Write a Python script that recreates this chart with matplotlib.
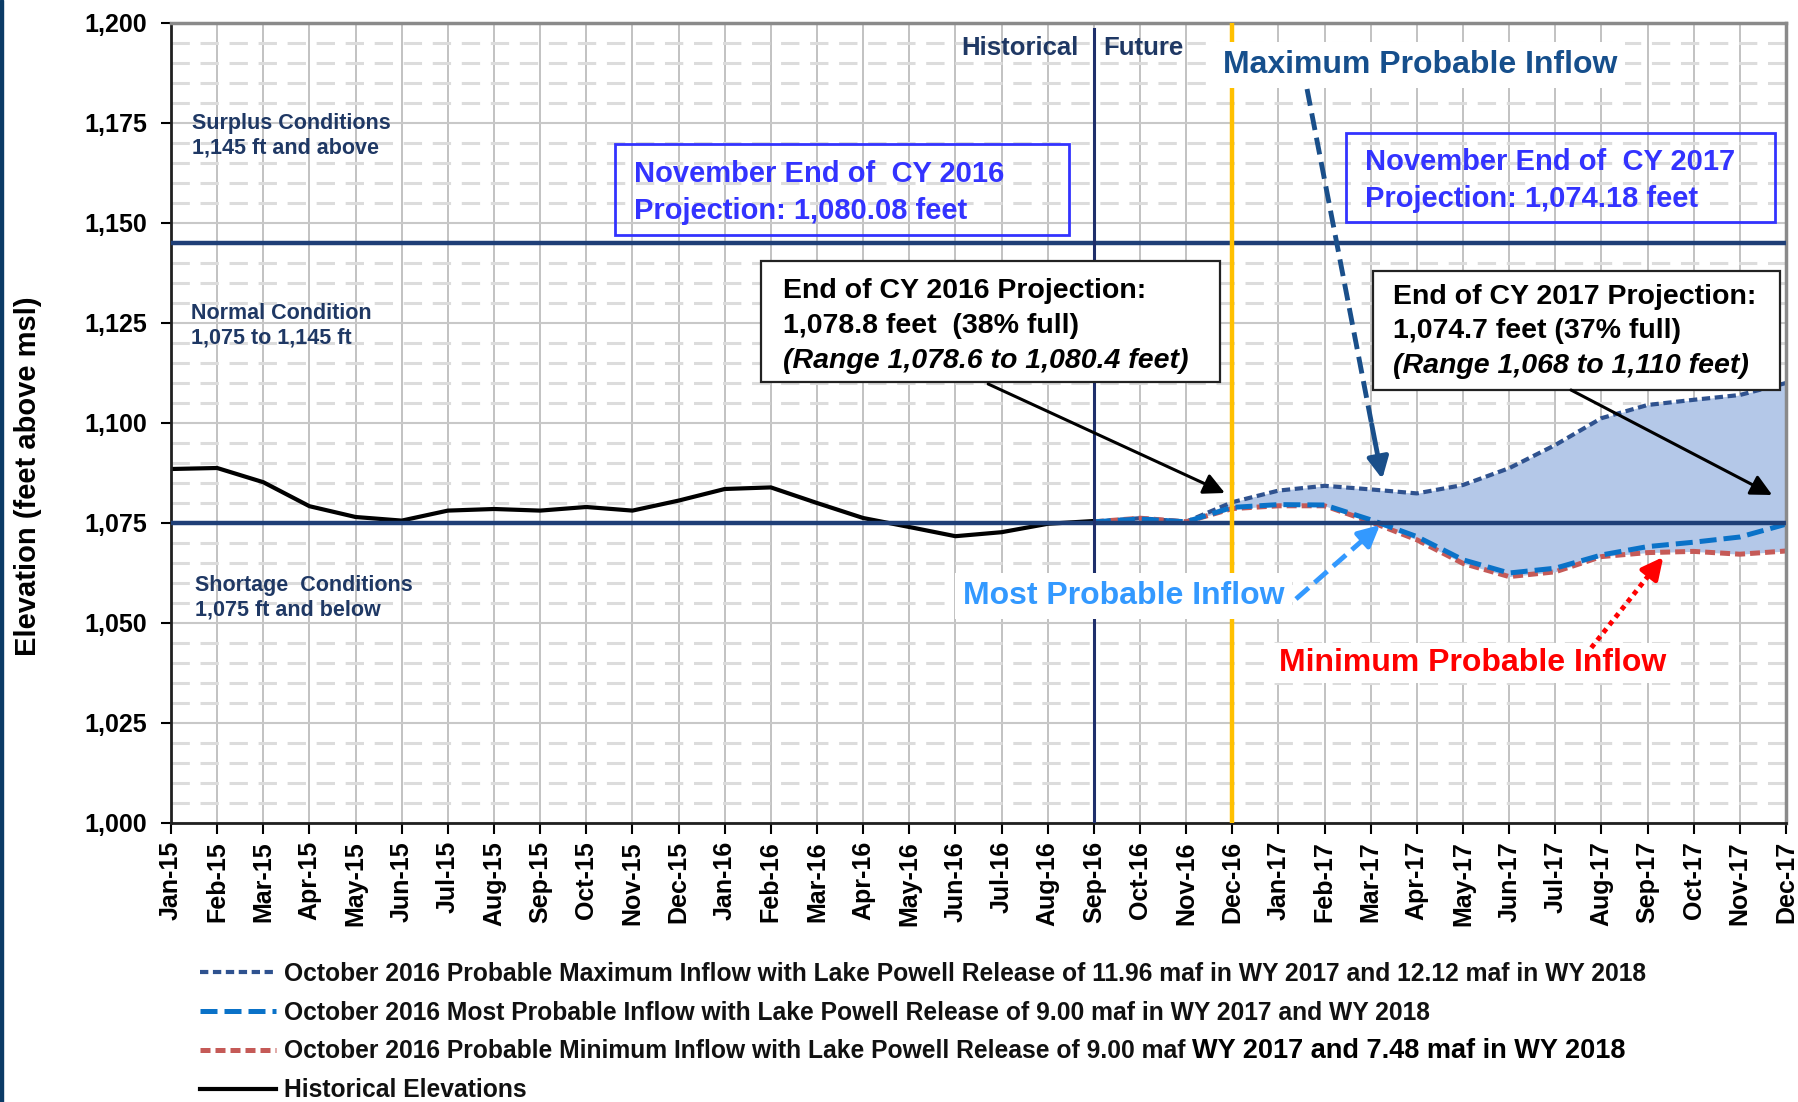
import matplotlib
matplotlib.use('Agg')
import matplotlib.pyplot as plt
import numpy as np
from matplotlib.patches import Rectangle
from matplotlib.ticker import MultipleLocator

plt.rcParams['font.family'] = ['Liberation Sans', 'DejaVu Sans']

# ---------------- data ----------------
months = ['Jan-15', 'Feb-15', 'Mar-15', 'Apr-15', 'May-15', 'Jun-15', 'Jul-15', 'Aug-15',
          'Sep-15', 'Oct-15', 'Nov-15', 'Dec-15', 'Jan-16', 'Feb-16', 'Mar-16', 'Apr-16',
          'May-16', 'Jun-16', 'Jul-16', 'Aug-16', 'Sep-16', 'Oct-16', 'Nov-16', 'Dec-16',
          'Jan-17', 'Feb-17', 'Mar-17', 'Apr-17', 'May-17', 'Jun-17', 'Jul-17', 'Aug-17',
          'Sep-17', 'Oct-17', 'Nov-17', 'Dec-17']

# Historical elevations Jan-15 .. Sep-16
hist_vals = [1088.5, 1088.75, 1085.2, 1079.2, 1076.5, 1075.6, 1078.1, 1078.5, 1078.1,
             1079.0, 1078.1, 1080.6, 1083.5, 1083.9, 1080.0, 1076.25, 1074.0, 1071.7,
             1072.7, 1074.8, 1075.5]

# Projections Sep-16 .. Dec-17
max_vals = [1075.3, 1076.2, 1075.3, 1080.2, 1083.1, 1084.3, 1083.4, 1082.4, 1084.5,
            1088.7, 1094.5, 1101.2, 1104.5, 1105.8, 1107.0, 1110.0]
most_vals = [1075.3, 1076.0, 1075.3, 1078.9, 1079.6, 1079.5, 1075.8, 1071.6, 1065.8,
             1062.5, 1063.7, 1067.0, 1069.1, 1070.2, 1071.5, 1074.7]
min_vals = [1075.3, 1076.2, 1075.3, 1078.6, 1079.3, 1079.3, 1075.3, 1070.8, 1064.9,
            1061.6, 1062.8, 1066.6, 1067.6, 1067.9, 1067.2, 1068.0]

y_ticks = [1000, 1025, 1050, 1075, 1100, 1125, 1150, 1175, 1200]
y_tick_labels = ['1,000', '1,025', '1,050', '1,075', '1,100', '1,125', '1,150', '1,175', '1,200']

surplus_level = 1145
shortage_level = 1075
split_month = 'Sep-16'
now_month = 'Dec-16'

legend_labels = [
    'October 2016 Probable Maximum Inflow with Lake Powell Release of 11.96 maf in WY 2017 and 12.12 maf in WY 2018',
    'October 2016 Most Probable Inflow with Lake Powell Release of 9.00 maf in WY 2017 and WY 2018',
    'October 2016 Probable Minimum Inflow with Lake Powell Release of 9.00 maf',
    'Historical Elevations',
]
legend_tail = 'WY 2017 and 7.48 maf in WY 2018'

# ---------------- figure ----------------
W, H = 1798, 1102
fig = plt.figure(figsize=(W / 100, H / 100), dpi=100)
L, R, T, B = 171, 1786, 23, 823
ax = fig.add_axes([L / W, 1 - B / H, (R - L) / W, (B - T) / H])

x_all = np.arange(len(months))
i_split = months.index(split_month)
i_now = months.index(now_month)
x_hist = x_all[:len(hist_vals)]
x_proj = x_all[i_split:i_split + len(max_vals)]

ax.set_xlim(0, len(months) - 1)
ax.set_ylim(1000, 1200)

# grid
ax.yaxis.set_minor_locator(MultipleLocator(5))
ax.set_axisbelow(True)
ax.grid(True, which='major', axis='y', color='#C8C8C8', lw=1.5, zorder=0)
ax.grid(True, which='minor', axis='y', color='#DCDCDC', lw=2.2, linestyle=(0, (6, 3.5)), zorder=0)
ax.grid(True, which='major', axis='x', color='#BDBDBD', lw=1.3, zorder=0)

# fill and series
ax.fill_between(x_proj, min_vals, max_vals, color='#B4C8E8', zorder=1, lw=0)
l_max, = ax.plot(x_proj, max_vals, color='#2F528F', lw=3, linestyle=(0, (2.0, 1.1)), zorder=2)
l_min, = ax.plot(x_proj, min_vals, color='#C55A57', lw=3.6, linestyle=(0, (2.0, 1.0)), zorder=2)
l_most, = ax.plot(x_proj, most_vals, color='#0A72C8', lw=3.6, linestyle=(0, (3.4, 1.4)), zorder=2.1)
l_hist, = ax.plot(x_hist, hist_vals, color='black', lw=3.0, zorder=2.5)

ax.axhline(surplus_level, color='#1F3F77', lw=3.2, zorder=3)
ax.axhline(shortage_level, color='#1F3F77', lw=3.2, zorder=3)
ax.axvline(i_split, color='#1F2F6B', lw=2.2, zorder=3, ymax=0.993)
ax.axvline(i_now, color='#FFC000', lw=3.2, zorder=3)

# axes styling
ax.set_xticks(x_all)
ax.set_xticklabels(months, rotation=90, fontsize=18, fontweight='bold')
ax.set_yticks(y_ticks)
ax.set_yticklabels(y_tick_labels, fontsize=18, fontweight='bold')
ax.tick_params(axis='x', which='major', length=8, width=1.5, pad=5, color='black')
ax.tick_params(axis='y', which='major', length=7, width=1.5, pad=10, color='black')
ax.tick_params(axis='y', which='minor', length=0)
for s in ['left', 'bottom']:
    ax.spines[s].set_color('#202020')
    ax.spines[s].set_linewidth(2)
for s in ['top', 'right']:
    ax.spines[s].set_color('#8A8A8A')
    ax.spines[s].set_linewidth(2.5)

fig.text(28 / W, 1 - 476 / H, 'Elevation (feet above msl)', rotation=90, fontsize=21,
         fontweight='bold', ha='center', va='center')

# condition labels
navy = '#1F3864'
ax.text(0.45, 1171.8, 'Surplus Conditions\n1,145 ft and above', color=navy, fontsize=15.5,
        fontweight='bold', ha='left', va='center', linespacing=1.22, zorder=4)
ax.text(0.43, 1124.2, 'Normal Condition\n1,075 to 1,145 ft', color=navy, fontsize=15.5,
        fontweight='bold', ha='left', va='center', linespacing=1.22, zorder=4)
ax.text(0.52, 1056.3, 'Shortage  Conditions\n1,075 ft and below', color=navy, fontsize=15.5,
        fontweight='bold', ha='left', va='center', linespacing=1.22, zorder=4)
ax.text(i_split - 0.32, 1193.8, 'Historical', color=navy, fontsize=18.5, fontweight='bold',
        ha='right', va='center', zorder=4)
ax.text(i_split + 0.2, 1193.8, 'Future', color=navy, fontsize=18.5, fontweight='bold',
        ha='left', va='center', zorder=4)

# inflow labels with white background
ax.text(22.8, 1189.6, 'Maximum Probable Inflow', color='#164F8C', fontsize=23, fontweight='bold',
        ha='left', va='center', zorder=5,
        bbox=dict(boxstyle='square,pad=0.25', fc='white', ec='none'))
ax.text(17.16, 1056.8, 'Most Probable Inflow', color='#3399FF', fontsize=23, fontweight='bold',
        ha='left', va='center', zorder=5,
        bbox=dict(boxstyle='square,pad=0.25', fc='white', ec='none'))
ax.text(24.01, 1040.0, 'Minimum Probable Inflow', color='#FF0000', fontsize=23, fontweight='bold',
        ha='left', va='center', zorder=5,
        bbox=dict(boxstyle='square,pad=0.15', fc='white', ec='none'))

# November boxes (blue outline, transparent)
blue = '#3333FF'
ax.add_patch(Rectangle((9.62, 1147.0), 19.46 - 9.62, 1169.75 - 1147.0, fill=False, ec=blue, lw=2, zorder=5))
ax.text(10.03, 1157.6, 'November End of  CY 2016\nProjection: 1,080.08 feet', color=blue, fontsize=21,
        fontweight='bold', ha='left', va='center', linespacing=1.42, zorder=5)
ax.add_patch(Rectangle((25.47, 1150.25), 34.76 - 25.47, 1172.5 - 1150.25, fill=False, ec=blue, lw=2, zorder=5))
ax.text(25.88, 1160.6, 'November End of  CY 2017\nProjection: 1,074.18 feet', color=blue, fontsize=21,
        fontweight='bold', ha='left', va='center', linespacing=1.42, zorder=5)

# End of year boxes (white fill, black outline)
ax.add_patch(Rectangle((12.79, 1110.25), 22.73 - 12.79, 1140.5 - 1110.25, fc='white', ec='#222222', lw=1.6, zorder=5))
ax.text(13.26, 1133.0, 'End of CY 2016 Projection:', fontsize=20.5, fontweight='bold', ha='left', va='center', zorder=6)
ax.text(13.26, 1124.3, '1,078.8 feet  (38% full)', fontsize=20.5, fontweight='bold', ha='left', va='center', zorder=6)
ax.text(13.26, 1115.6, '(Range 1,078.6 to 1,080.4 feet)', fontsize=20.5, fontweight='bold', style='italic',
        ha='left', va='center', zorder=6)
ax.add_patch(Rectangle((26.05, 1108.25), 34.87 - 26.05, 1138.0 - 1108.25, fc='white', ec='#222222', lw=1.6, zorder=5))
ax.text(26.48, 1131.5, 'End of CY 2017 Projection:', fontsize=20.5, fontweight='bold', ha='left', va='center', zorder=6)
ax.text(26.48, 1122.9, '1,074.7 feet (37% full)', fontsize=20.5, fontweight='bold', ha='left', va='center', zorder=6)
ax.text(26.48, 1114.3, '(Range 1,068 to 1,110 feet)', fontsize=20.5, fontweight='bold', style='italic',
        ha='left', va='center', zorder=6)

# black arrows
for (x0, y0), (x1, y1) in [((17.71, 1109.75), (22.84, 1082.5)), ((30.34, 1108.25), (34.7, 1082.0))]:
    ax.annotate('', xy=(x1, y1), xytext=(x0, y0),
                arrowprops=dict(arrowstyle='-|>', color='black', lw=2.2, mutation_scale=32,
                                shrinkA=0, shrinkB=0), zorder=6)


def styled_arrow(p0, p1, color, ls, lw):
    (x0, y0), (x1, y1) = p0, p1
    f = 0.86
    xm, ym = x0 + (x1 - x0) * f, y0 + (y1 - y0) * f
    ax.plot([x0, xm], [y0, ym], color=color, lw=lw, linestyle=ls, zorder=6, solid_capstyle='butt')
    ax.annotate('', xy=(x1, y1), xytext=(xm, ym),
                arrowprops=dict(arrowstyle='-|>', color=color, lw=lw, mutation_scale=32,
                                shrinkA=0, shrinkB=0), zorder=6)


styled_arrow((24.62, 1183.5), (26.25, 1086.0), '#1A4F8A', (0, (3.5, 1.6)), 3.5)
styled_arrow((24.38, 1056.0), (26.2, 1074.5), '#3399FF', (0, (3.5, 1.6)), 3.5)
styled_arrow((30.78, 1043.8), (32.34, 1066.5), '#FF0000', (0, (1.0, 1.0)), 3.5)

# legend
leg = ax.legend([l_max, l_most, l_min, l_hist], legend_labels, loc='upper left',
                bbox_to_anchor=(200 / W, 1 - 962 / H), bbox_transform=fig.transFigure,
                frameon=False, prop={'weight': 'bold', 'size': 17.7},
                handlelength=3.1, handletextpad=0.3, labelspacing=0.6,
                borderpad=0, borderaxespad=0)
for t in leg.get_texts():
    t.set_color('#111111')

fig.canvas.draw()
bb = leg.get_texts()[2].get_window_extent(fig.canvas.get_renderer())
fig.text((bb.x1 + 7) / W, (bb.y0 + bb.y1) / 2 / H + 0.5 / H, legend_tail, fontsize=19.5,
         fontweight='bold', color='black', ha='left', va='center')

# left-edge frame stripe
fig.patches.append(Rectangle((0, 0), 3 / W, 1, transform=fig.transFigure, color='#0B3B66', zorder=10))

fig.savefig('out.png', dpi=100)
